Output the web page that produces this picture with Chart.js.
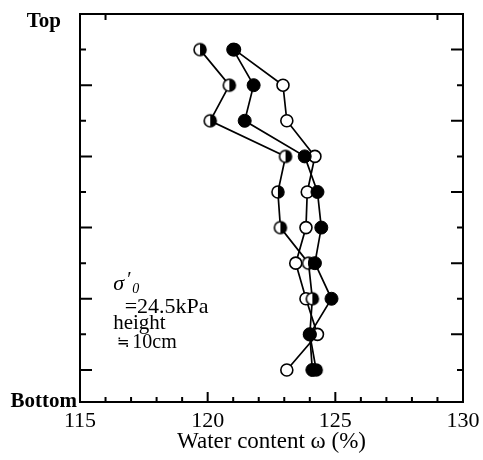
<!DOCTYPE html>
<html><head><meta charset="utf-8">
<script src="https://cdn.jsdelivr.net/npm/chart.js@4"></script>
<style>html,body{margin:0;padding:0;background:#fff}canvas{display:block}</style>
</head><body>
<canvas id="c" width="483" height="460"></canvas>
<script>
// rows from top (1) to bottom (10) of the specimen
const rows = [1, 2, 3, 4, 5, 6, 7, 8, 9, 10];
// water content (%) per row
const filledW = [121.0, 121.8, 121.45, 123.8, 124.3, 124.45, 124.2, 124.85, 124.0, 124.1];
const halfW   = [119.7, 120.85, 120.1, 123.05, 122.75, 122.85, 123.95, 124.1, 124.0, 124.25];
const openW   = [121.05, 122.95, 123.1, 124.2, 123.9, 123.85, 123.45, 123.85, 124.3, 123.1];
const xTickValues = [115, 120, 125, 130];
const yEndLabels = ['Top', 'Bottom'];

const SERIF = '"Liberation Serif", "DejaVu Serif", "Times New Roman", serif';

function halfCircle() {
  const c = document.createElement('canvas');
  c.width = 16; c.height = 16;
  const g = c.getContext('2d');
  g.beginPath(); g.arc(8, 8, 6, 0, Math.PI * 2); g.fillStyle = '#fff'; g.fill();
  g.beginPath(); g.moveTo(8, 2); g.arc(8, 8, 6, -Math.PI / 2, Math.PI / 2); g.closePath(); g.fillStyle = '#000'; g.fill();
  g.beginPath(); g.arc(8, 8, 6, 0, Math.PI * 2); g.lineWidth = 1.6; g.strokeStyle = '#000'; g.stroke();
  return c;
}

const toPts = arr => rows.map((r, i) => ({ x: arr[i], y: r }));

const framePlugin = {
  id: 'frame',
  beforeDatasetsDraw(chart) {
    const { ctx, chartArea: a, scales: { x, y } } = chart;
    ctx.save();
    ctx.strokeStyle = '#000';
    ctx.lineWidth = 2;
    ctx.strokeRect(a.left, a.top, a.right - a.left, a.bottom - a.top);
    ctx.beginPath();
    for (let v = 116; v < 130; v++) {
      const px = x.getPixelForValue(v);
      const len = v % 5 === 0 ? 10 : 5;
      ctx.moveTo(px, a.bottom); ctx.lineTo(px, a.bottom - len);
    }
    [116, 129].forEach(v => {
      const px = x.getPixelForValue(v);
      ctx.moveTo(px, a.top); ctx.lineTo(px, a.top + 6);
    });
    rows.forEach((r, i) => {
      const py = y.getPixelForValue(r);
      const l = i % 2 === 0 ? 6 : 12;
      ctx.moveTo(a.left, py); ctx.lineTo(a.left + l, py);
      const rl = i % 2 === 0 ? 12 : 6;
      ctx.moveTo(a.right, py); ctx.lineTo(a.right - rl, py);
    });
    ctx.stroke();
    ctx.restore();
  },
  afterDraw(chart) {
    const { ctx, scales: { x, y } } = chart;
    const notes = chart.options.plugins.frame.notes;
    ctx.save();
    ctx.fillStyle = '#000';
    ctx.textBaseline = 'alphabetic';
    ctx.textAlign = 'left';
    notes.forEach(n => {
      ctx.font = n.font;
      ctx.fillText(n.text, x.getPixelForValue(n.x), y.getPixelForValue(n.y));
    });
    ctx.restore();
  }
};

new Chart(document.getElementById('c'), {
  type: 'scatter',
  data: {
    datasets: [
      { label: 'filled', data: toPts(filledW), showLine: true, borderColor: '#000', borderWidth: 1.7,
        pointRadius: 6.5, pointBackgroundColor: '#000', pointBorderColor: '#000', pointBorderWidth: 1 },
      { label: 'half', data: toPts(halfW), showLine: true, borderColor: '#000', borderWidth: 1.7,
        pointStyle: halfCircle(), pointRadius: 6 },
      { label: 'open', data: toPts(openW), showLine: true, borderColor: '#000', borderWidth: 1.7,
        pointRadius: 6, pointBackgroundColor: '#fff', pointBorderColor: '#000', pointBorderWidth: 1.6 }
    ]
  },
  options: {
    responsive: false,
    animation: false,
    layout: { padding: { left: 0, right: 20, top: 14, bottom: 0 } },
    elements: { line: { tension: 0 } },
    plugins: {
      legend: { display: false },
      tooltip: { enabled: false },
      frame: {
        notes: [
          { text: 'σ', x: 116.3, y: 7.75, font: 'italic 22px ' + SERIF },
          { text: '\u2032', x: 116.8, y: 7.65, font: 'italic 20px ' + SERIF },
          { text: '0', x: 117.05, y: 7.85, font: 'italic 14px ' + SERIF },
          { text: '=24.5kPa', x: 116.75, y: 8.4, font: '22px ' + SERIF },
          { text: 'height', x: 116.3, y: 8.85, font: '21px ' + SERIF },
          { text: '\u2252', x: 116.45, y: 9.36, font: '15px "DejaVu Sans", sans-serif' },
          { text: '10cm', x: 117.05, y: 9.38, font: '20px ' + SERIF }
        ]
      }
    },
    scales: {
      x: {
        type: 'linear', min: 115, max: 130,
        afterBuildTicks: s => { s.ticks = xTickValues.map(v => ({ value: v })); },
        afterFit: s => { s.height = 58; s.paddingLeft = 0; s.paddingRight = 0; },
        grid: { display: false, drawTicks: false },
        border: { display: false },
        ticks: { color: '#000', padding: 8, font: { family: SERIF, size: 22, lineHeight: 1 }, maxRotation: 0,
                 callback: v => String(v) },
        title: { display: true, text: 'Water content ω (%)', color: '#000',
                 font: { family: SERIF, size: 23, lineHeight: 1 }, padding: { top: 0, bottom: 7 } }
      },
      y: {
        type: 'linear', min: 0, max: 10.9, reverse: true,
        afterBuildTicks: s => { s.ticks = [{ value: 0.2 }, { value: 10.9 }]; },
        afterFit: s => { s.width = 80; s.paddingTop = 0; s.paddingBottom = 0; },
        grid: { display: false, drawTicks: false },
        border: { display: false },
        ticks: { color: '#000', padding: 3, crossAlign: 'center',
                 font: { family: SERIF, size: 21, weight: 'bold', lineHeight: 1 },
                 callback: v => (v < 5 ? yEndLabels[0] : yEndLabels[1]) }
      }
    }
  },
  plugins: [framePlugin]
});
</script>
</body></html>
